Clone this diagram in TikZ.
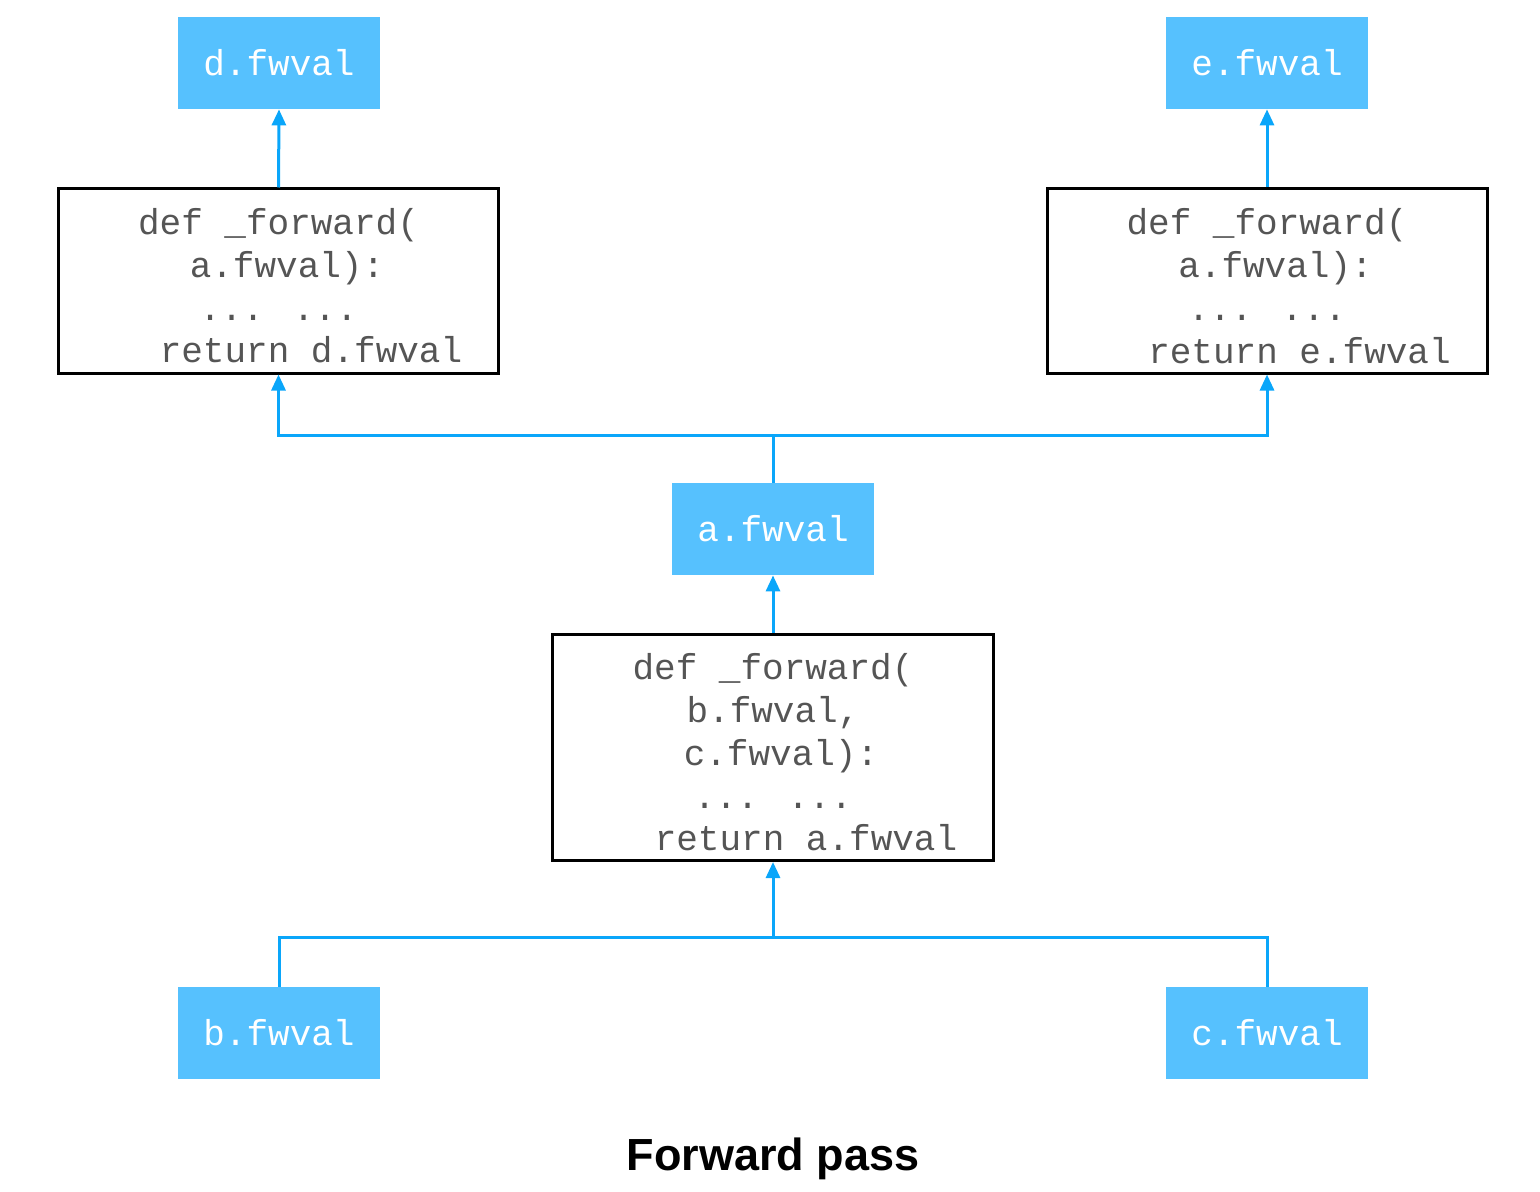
\documentclass[tikz,border=0pt]{standalone}
\usepackage{fontspec}
\setmainfont{Liberation Sans}
\newfontfamily\codefont{Liberation Mono}
\usetikzlibrary{arrows.meta}
\definecolor{boxblue}{HTML}{56C1FE}
\definecolor{arrowblue}{HTML}{0AA6FA}
\definecolor{codegray}{HTML}{555555}
\begin{document}
\begin{tikzpicture}[x=0.5pt,y=-0.5pt,
  valbox/.style={fill=boxblue, minimum width=101pt, minimum height=46pt, inner sep=0pt,
    text=white, font=\codefont\fontsize{18}{21.4}\selectfont},
  codebox/.style={draw=black, line width=1.5pt, inner sep=0pt, text=codegray, align=center,
    font=\codefont\fontsize{18}{21.4}\selectfont},
  conn/.style={draw=arrowblue, line width=1.5pt, -{Triangle[width=7pt,length=8pt]}},
  plainconn/.style={draw=arrowblue, line width=1.5pt},
]
\useasboundingbox (0,0) rectangle (1540,1192);

\node[valbox] (d) at (279,63) {d.fwval};
\node[valbox] (e) at (1267,63) {e.fwval};
\node[valbox] (a) at (773,529) {a.fwval};
\node[valbox] (b) at (279,1033) {b.fwval};
\node[valbox] (c) at (1267,1033) {c.fwval};

\node[codebox, minimum width=220pt, minimum height=92pt] (dcode) at (278.5,281)
  {\rule{0pt}{18pt}def \_forward(\\\hspace*{8.5pt}a.fwval):\\... ...\\\hspace*{32.5pt}return d.fwval};
\node[codebox, minimum width=220pt, minimum height=92pt] (ecode) at (1267,281)
  {\rule{0pt}{18pt}def \_forward(\\\hspace*{8.5pt}a.fwval):\\... ...\\\hspace*{32.5pt}return e.fwval};
\node[codebox, minimum width=220.5pt, minimum height=113pt] (acode) at (773,747.5)
  {\rule{0pt}{18pt}def \_forward(\\b.fwval,\\\hspace*{8pt}c.fwval):\\... ...\\\hspace*{33pt}return a.fwval};

\coordinate (tj) at (773,435);
\coordinate (bj) at (773,937);

\draw[conn] (dcode.north) -- (d.south);
\draw[conn] (ecode.north) -- (e.south);
\draw[conn] (acode.north) -- (a.south);
\draw[conn] (a.north) -- (tj) -| (dcode.south);
\draw[conn] (tj) -| (ecode.south);
\draw[plainconn] (b.north) |- (bj);
\draw[plainconn] (c.north) |- (bj);
\draw[conn] (bj) -- (acode.south);

\node[font=\bfseries\fontsize{22.5}{27}\selectfont] (title) at (773,1159) {Forward pass};
\end{tikzpicture}
\end{document}
